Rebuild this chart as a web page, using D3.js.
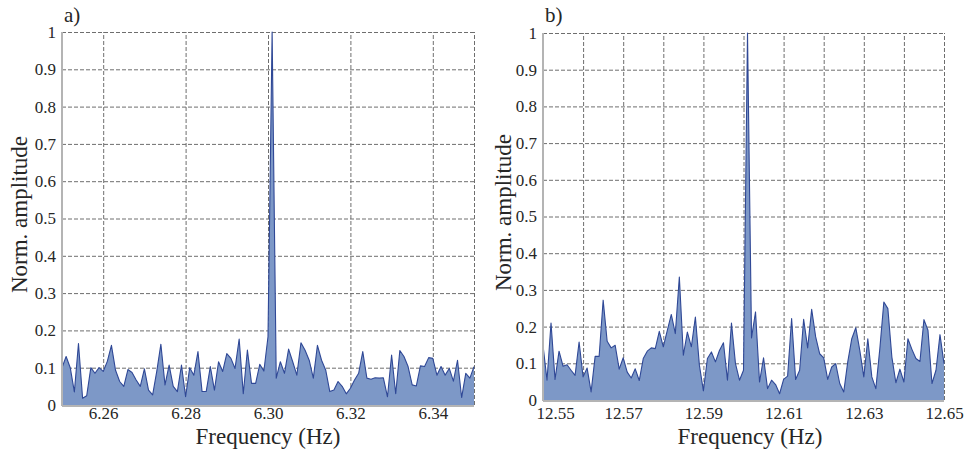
<!DOCTYPE html>
<html>
<head>
<meta charset="utf-8">
<script src="https://cdn.jsdelivr.net/npm/d3@7"></script>
<style>
  body { margin: 0; background: #fff; }
  svg { display: block; }
  text { font-family: "Liberation Serif", "Times New Roman", serif; fill: #262626; }
</style>
</head>
<body>
<svg id="chart" width="966" height="452"></svg>
<script>
// panel a) spectrum around 6.30 Hz, 0.001 Hz bins from 6.25
var freqStartA = 6.25;
var ampA = [
  0.10, 0.13, 0.10, 0.035, 0.165, 0.018, 0.025, 0.10, 0.085, 0.10,
  0.09, 0.117, 0.16, 0.093, 0.063, 0.05, 0.095, 0.087, 0.067, 0.05,
  0.097, 0.04, 0.027, 0.09, 0.163, 0.054, 0.107, 0.05, 0.036, 0.107,
  0.022, 0.10, 0.08, 0.143, 0.036, 0.036, 0.103, 0.04, 0.116, 0.09,
  0.138, 0.125, 0.098, 0.177, 0.03, 0.147, 0.058, 0.058, 0.109, 0.091,
  0.183, 1.0, 0.072, 0.116, 0.085, 0.15, 0.116, 0.08, 0.167, 0.147,
  0.12, 0.072, 0.16, 0.12, 0.094, 0.036, 0.04, 0.063, 0.05, 0.03,
  0.045, 0.067, 0.085, 0.143, 0.072, 0.069, 0.073, 0.072, 0.073, 0.022,
  0.134, 0.03, 0.146, 0.13, 0.103, 0.054, 0.051, 0.105, 0.103, 0.127,
  0.125, 0.08, 0.103, 0.08, 0.098, 0.064, 0.12, 0.02, 0.085, 0.072,
  0.103
];
var xTicksA = [6.26, 6.28, 6.30, 6.32, 6.34];
var xGridA = [6.26, 6.28, 6.30, 6.32, 6.34, 6.35];

// panel b) spectrum around 12.60 Hz, 0.001 Hz bins from 12.55
var freqStartB = 12.55;
var ampB = [
  0.149, 0.054, 0.21, 0.056, 0.133, 0.092, 0.096, 0.081, 0.067, 0.158,
  0.063, 0.087, 0.022, 0.119, 0.119, 0.272, 0.16, 0.142, 0.149, 0.084,
  0.115, 0.076, 0.06, 0.085, 0.053, 0.113, 0.133, 0.142, 0.14, 0.187,
  0.145, 0.19, 0.233, 0.181, 0.335, 0.122, 0.185, 0.145, 0.226, 0.095,
  0.025, 0.113, 0.131, 0.104, 0.135, 0.156, 0.054, 0.21, 0.099, 0.054,
  0.081, 1.0, 0.169, 0.24, 0.049, 0.115, 0.031, 0.054, 0.042, 0.017,
  0.056, 0.065, 0.222, 0.056, 0.081, 0.22, 0.142, 0.247, 0.172, 0.126,
  0.115, 0.056, 0.09, 0.099, 0.045, 0.022, 0.104, 0.167, 0.197, 0.135,
  0.063, 0.167, 0.063, 0.031, 0.14, 0.267, 0.249, 0.117, 0.047, 0.084,
  0.049, 0.167, 0.138, 0.113, 0.105, 0.219, 0.19, 0.045, 0.081, 0.178,
  0.099
];
var xTicksB = [12.55, 12.57, 12.59, 12.61, 12.63, 12.65];
var xGridB = [12.56, 12.57, 12.58, 12.59, 12.60, 12.61, 12.62, 12.63, 12.64, 12.65];

var yTicks = [0, 0.1, 0.2, 0.3, 0.4, 0.5, 0.6, 0.7, 0.8, 0.9, 1];
var binWidth = 0.001;
var serif = "Liberation Serif, Times New Roman, serif";

var svg = d3.select("#chart");

drawPanel({
  label: "a)", start: freqStartA, values: ampA,
  domain: [6.25, 6.35], xTicks: xTicksA, xGrid: xGridA, fmt: d3.format(".2f"),
  left: 62, right: 474, top: 32, bottom: 405,
  xPad: 2, titleX: 268, yTitleX: 27, labelX: 64
});

drawPanel({
  label: "b)", start: freqStartB, values: ampB,
  domain: [12.55, 12.65], xTicks: xTicksB, xGrid: xGridB, fmt: d3.format(".2f"),
  left: 543, right: 944, top: 33, bottom: 400,
  xPad: 7, titleX: 750, yTitleX: 511, labelX: 545, firstShift: 12
});

function drawPanel(p) {
  var x = d3.scaleLinear().domain(p.domain).range([p.left, p.right]);
  var y = d3.scaleLinear().domain([0, 1]).range([p.bottom, p.top]);

  var points = p.values.map(function (v, i) {
    return { f: p.start + i * binWidth, a: v };
  });

  var g = svg.append("g");

  // dashed grid (no labels on these)
  var gridY = g.append("g")
    .attr("transform", "translate(" + p.left + ",0)")
    .call(d3.axisLeft(y).tickValues(yTicks.slice(1)).tickSize(-(p.right - p.left)));
  gridY.select(".domain").remove();
  gridY.selectAll("text").remove();
  gridY.selectAll("line")
    .attr("stroke", "#6e6e6e")
    .attr("stroke-dasharray", "4,2");

  var gridX = g.append("g")
    .attr("transform", "translate(0," + p.bottom + ")")
    .call(d3.axisBottom(x).tickValues(p.xGrid).tickSize(-(p.bottom - p.top)));
  gridX.select(".domain").remove();
  gridX.selectAll("text").remove();
  gridX.selectAll("line")
    .attr("stroke", "#6e6e6e")
    .attr("stroke-dasharray", "4,2");

  // filled spectrum
  var area = d3.area()
    .x(function (d) { return x(d.f); })
    .y0(y(0))
    .y1(function (d) { return y(d.a); });

  var line = d3.line()
    .x(function (d) { return x(d.f); })
    .y(function (d) { return y(d.a); });

  g.append("path")
    .datum(points)
    .attr("d", area)
    .attr("fill", "#7d98c7");

  g.append("path")
    .datum(points)
    .attr("d", line)
    .attr("fill", "none")
    .attr("stroke", "#2f4896")
    .attr("stroke-width", 1.1)
    .attr("stroke-linejoin", "round");

  // solid left and bottom frame
  g.append("line")
    .attr("x1", p.left).attr("x2", p.left)
    .attr("y1", p.top).attr("y2", p.bottom + 1)
    .attr("stroke", "#b4b4b4").attr("stroke-width", 2);
  g.append("line")
    .attr("x1", p.left).attr("x2", p.right)
    .attr("y1", p.bottom + 1).attr("y2", p.bottom + 1)
    .attr("stroke", "#b4b4b4").attr("stroke-width", 2);

  // tick labels
  var yAxis = g.append("g")
    .attr("transform", "translate(" + p.left + ",0)")
    .call(d3.axisLeft(y).tickValues(yTicks).tickSize(0).tickPadding(6).tickFormat(d3.format("")))
    .attr("font-family", serif)
    .attr("font-size", 17);
  yAxis.select(".domain").remove();
  yAxis.selectAll("text").attr("fill", "#262626");

  var xAxis = g.append("g")
    .attr("transform", "translate(0," + p.bottom + ")")
    .call(d3.axisBottom(x).tickValues(p.xTicks).tickSize(0).tickPadding(p.xPad).tickFormat(p.fmt))
    .attr("font-family", serif)
    .attr("font-size", 17);
  xAxis.select(".domain").remove();
  xAxis.selectAll("text").attr("fill", "#262626");
  if (p.firstShift) {
    xAxis.select(".tick text").attr("dx", p.firstShift);
  }

  // titles
  g.append("text")
    .attr("x", p.titleX)
    .attr("y", 444)
    .attr("text-anchor", "middle")
    .style("font-size", "23px")
    .text("Frequency (Hz)");

  g.append("text")
    .attr("transform", "translate(" + p.yTitleX + "," + ((p.top + p.bottom) / 2 - 4) + ") rotate(-90)")
    .attr("text-anchor", "middle")
    .style("font-size", "23px")
    .text("Norm. amplitude");

  g.append("text")
    .attr("x", p.labelX)
    .attr("y", 22)
    .style("font-size", "21px")
    .text(p.label);
}
</script>
</body>
</html>
